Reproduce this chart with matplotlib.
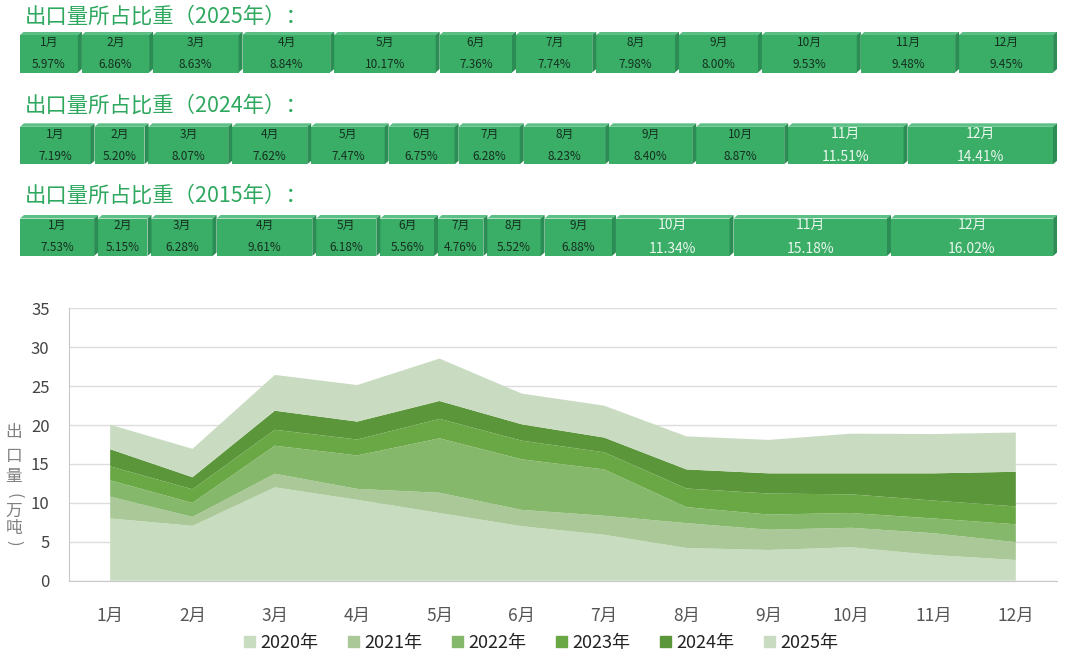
import numpy as np
import matplotlib
matplotlib.use('Agg')
import matplotlib.pyplot as plt
from matplotlib.patches import Polygon, Patch

plt.rcParams['font.family'] = ['Noto Sans CJK SC', 'DejaVu Sans']

months = ['1月', '2月', '3月', '4月', '5月', '6月', '7月', '8月', '9月', '10月', '11月', '12月']
years = ['2020年', '2021年', '2022年', '2023年', '2024年', '2025年']

# export volume per year (万吨), stacked bottom to top
v2020 = [8.0, 7.05, 12.0, 10.4, 8.7, 7.0, 5.9, 4.2, 3.95, 4.3, 3.3, 2.66]
v2021 = [2.8, 1.15, 1.75, 1.4, 2.6, 2.1, 2.45, 3.2, 2.6, 2.5, 2.8, 2.29]
v2022 = [2.1, 1.8, 3.6, 4.3, 7.0, 6.5, 5.95, 2.05, 1.95, 1.9, 1.9, 2.3]
v2023 = [1.8, 1.75, 2.05, 2.05, 2.5, 2.4, 2.2, 2.4, 2.7, 2.4, 2.3, 2.3]
v2024 = [2.2, 1.55, 2.45, 2.3, 2.3, 2.1, 1.9, 2.45, 2.6, 2.7, 3.5, 4.45]
v2025 = [3.15, 3.65, 4.6, 4.7, 5.45, 3.95, 4.1, 4.25, 4.3, 5.1, 5.05, 5.05]
layer_colors = ['#c8dcc0', '#aac898', '#86b86c', '#6aa846', '#5c963a', '#c9dcc2']

# monthly share of yearly export (%)
share_titles = ['出口量所占比重（2025年）：', '出口量所占比重（2024年）：', '出口量所占比重（2015年）：']
share_2025 = [5.97, 6.86, 8.63, 8.84, 10.17, 7.36, 7.74, 7.98, 8.00, 9.53, 9.48, 9.45]
share_2024 = [7.19, 5.20, 8.07, 7.62, 7.47, 6.75, 6.28, 8.23, 8.40, 8.87, 11.51, 14.41]
share_2015 = [7.53, 5.15, 6.28, 9.61, 6.18, 5.56, 4.76, 5.52, 6.88, 11.34, 15.18, 16.02]
big_months = [[], ['11月', '12月'], ['10月', '11月', '12月']]

ylabel_chars = ['出', '口', '量', '(', '万', '吨', ')']

W, H = 1080, 656
fig = plt.figure(figsize=(W / 100, H / 100), dpi=100)

# ---- share rows (3D looking blocks) ----
title_y = [17, 106, 196]
box_top = [31.5, 123.3, 215]
box_h = 41
row_left, row_w = 20, 1037

for r, shares in enumerate([share_2025, share_2024, share_2015]):
    fig.text(25 / W, 1 - title_y[r] / H, share_titles[r], fontsize=15.4,
             color='#2ea85e', va='center', ha='left')
    ax = fig.add_axes([row_left / W, 1 - (box_top[r] + box_h) / H, row_w / W, box_h / H])
    ax.set_xlim(0, 100)
    ax.set_ylim(0, 1)
    ax.axis('off')
    bw = 4 * 100 / row_w
    bh = 3.5 / box_h
    lefts = np.concatenate([[0], np.cumsum(shares)[:-1]])
    ax.bar(lefts, [1 - bh] * len(shares), width=np.array(shares) - bw, align='edge',
           color='#3aad67', linewidth=0)
    for m, l, s in zip(months, lefts, shares):
        rgt = l + s
        ax.add_patch(Polygon([(l, 1 - bh), (l + bw, 1), (rgt, 1), (rgt - bw, 1 - bh)],
                             closed=True, color='#5cbf85', lw=0))
        ax.add_patch(Polygon([(rgt - bw, 0), (rgt - bw, 1 - bh), (rgt, 1), (rgt, bh)],
                             closed=True, color='#2b8d53', lw=0))
        cx = l + (s - bw) / 2
        if m in big_months[r]:
            ax.text(cx, 0.75, m, ha='center', va='center', fontsize=10, color='#eaf7ee')
            ax.text(cx, 0.17, f'{s:.2f}%', ha='center', va='center', fontsize=10, color='#eaf7ee')
        else:
            ax.text(cx, 0.74, m, ha='center', va='center', fontsize=8.5, color='#15301f')
            ax.text(cx, 0.2, f'{s:.2f}%', ha='center', va='center', fontsize=8.5, color='#15301f')

# ---- stacked area chart ----
ax = fig.add_axes([69 / W, 1 - 580.7 / H, (1057 - 69) / W, (580.7 - 308.4) / H])
x = np.arange(len(months))
ax.stackplot(x, v2020, v2021, v2022, v2023, v2024, v2025, colors=layer_colors,
             linewidth=0, labels=years)
ax.set_xlim(-0.5, 11.5)
ax.set_ylim(0, 35)
ax.set_yticks(range(0, 36, 5))
ax.set_xticks(x)
ax.set_xticklabels(months)
ax.grid(axis='y', color='#dcdcdc', linewidth=1)
ax.set_axisbelow(True)
for sp in ['top', 'right']:
    ax.spines[sp].set_visible(False)
ax.spines['left'].set_color('#c8c8c8')
ax.spines['bottom'].set_color('#c8c8c8')
ax.tick_params(axis='both', length=0)
ax.tick_params(axis='x', pad=19, labelsize=12.5, labelcolor='#555555')
ax.tick_params(axis='y', pad=14, labelsize=12, labelcolor='#444444')

# vertical axis title, one upright character per line
ylabel_pos = [433, 456, 476, 496, 511, 529, 543]
for ch, yp in zip(ylabel_chars, ylabel_pos):
    rot = -90 if ch in '()' else 0
    fig.text(14 / W, 1 - yp / H, ch, fontsize=12, color='#808080',
             ha='center', va='center', rotation=rot)

handles = [Patch(color=c, label=y) for c, y in zip(layer_colors, years)]
fig.legend(handles=handles, loc='center', bbox_to_anchor=(541 / W, 1 - 643 / H), ncol=6,
           frameon=False, fontsize=13, handlelength=0.6, handleheight=0.6,
           handletextpad=0.3, columnspacing=1.65, labelcolor='#222222')

fig.savefig('out.png', dpi=100)
